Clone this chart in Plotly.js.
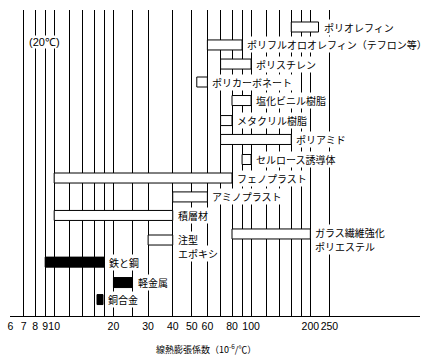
<!DOCTYPE html>
<html><head><meta charset="utf-8">
<script src="https://cdn.plot.ly/plotly-3.0.1.min.js"></script>
<style>html,body{margin:0;padding:0;background:#fff}</style>
</head><body>
<div id="chart" style="width:432px;height:363px"></div>
<script>
// Materials (top to bottom), linear thermal expansion range (10^-6 /°C)
const materials = [
  'ポリオレフィン',
  'ポリフルオロオレフィン（テフロン等）',
  'ポリスチレン',
  'ポリカーボネート',
  '塩化ビニル樹脂',
  'メタクリル樹脂',
  'ポリアミド',
  'セルロース誘導体',
  'フェノプラスト',
  'アミノプラスト',
  '積層材',
  '注型<br>エポキシ',
  'ガラス繊維強化<br>ポリエステル',
  '鉄と鋼',
  '軽金属',
  '銅合金'
];
const lowVals  = [160, 60, 70, 53, 80, 70, 70, 90, 10, 40, 10, 30, 80, 9, 20, 16.5];
const highVals = [220, 90, 100, 60, 100, 80, 160, 100, 80, 60, 40, 40, 200, 18, 25, 17.7];
const rows     = [1, 1.95, 2.96, 3.91, 4.89, 5.95, 6.95, 8.01, 8.99, 9.99, 10.97, 12.27, 11.95, 13.44, 14.52, 15.42];
const isMetal  = [false,false,false,false,false,false,false,false,false,false,false,false,false,true,true,true];

// labelled ticks and extra (unlabelled) grid lines
const tickVals   = [6, 7, 8, 9, 10, 20, 30, 40, 50, 60, 80, 100, 200, 250];
const tickLabels = ['6','7','8','9','10','20','30','40','50','60','80','100','200','250'];
const extraGrid  = [12, 14, 16, 18, 25, 70, 90, 120, 140, 160, 180];

const noteText  = '(20℃)';
const axisTitle = '線熱膨張係数（10<sup>-6</sup>/℃）';

function pick(flag) {
  const idx = materials.map((_, i) => i).filter(i => isMetal[i] === flag);
  return {
    y: idx.map(i => rows[i]),
    base: idx.map(i => lowVals[i]),
    x: idx.map(i => highVals[i] - lowVals[i])
  };
}
const plas = pick(false), met = pick(true);

const traces = [
  {type:'bar', orientation:'h', y:plas.y, x:plas.x, base:plas.base, width:0.53,
   marker:{color:'#fff', line:{color:'#000', width:1}}, hoverinfo:'skip'},
  {type:'bar', orientation:'h', y:met.y, x:met.x, base:met.base, width:0.53,
   marker:{color:'#000', line:{color:'#000', width:1}}, hoverinfo:'skip'}
];

const cjk = "'Noto Sans CJK JP', 'Noto Sans', sans-serif";
const annotations = [];
materials.forEach((m, i) => {
  const lines = m.split('<br>');
  lines.forEach((line, k) => {
    annotations.push({
      x: Math.log10(highVals[i]), y: rows[i], xref:'x', yref:'y',
      text: line, showarrow:false, xanchor:'left', yanchor:'middle', align:'left',
      xshift: 4, yshift: lines.length > 1 ? 1 - 14 * k : 0,
      bgcolor:'#fff', borderpad:0,
      font:{family:cjk, size:10, color:'#000'}
    });
  });
});
annotations.push({
  xref:'paper', yref:'paper', x:0.084, y:0.894, text:noteText, showarrow:false,
  xanchor:'center', yanchor:'middle', bgcolor:'#fff', borderpad:0,
  font:{family:"'Liberation Sans', Arial, sans-serif", size:11, color:'#000'}
});
annotations.push({
  xref:'paper', yref:'paper', x:0.478, y:-0.108, text:axisTitle, showarrow:false,
  xanchor:'center', yanchor:'middle',
  font:{family:cjk, size:9, color:'#000'}
});

const layout = {
  width:432, height:363,
  margin:{l:10, r:12, t:10, b:47},
  paper_bgcolor:'#fff', plot_bgcolor:'#fff',
  showlegend:false, barmode:'overlay',
  xaxis:{type:'log', range:[Math.log10(5.965), Math.log10(721)],
    tickmode:'array', tickvals:tickVals, ticktext:tickLabels,
    tickangle:0,
    showgrid:true, gridcolor:'#000', gridwidth:1,
    minor:{tickmode:'array', tickvals:extraGrid, showgrid:true, gridcolor:'#000', gridwidth:1, ticks:''},
    showline:true, linecolor:'#000', linewidth:1, ticks:'', zeroline:false,
    tickfont:{family:"'Liberation Sans', Arial, sans-serif", size:10.5, color:'#000'},
    fixedrange:true},
  yaxis:{range:[16.29, 0.1005], showgrid:false, showticklabels:false,
    zeroline:false, showline:false, fixedrange:true},
  annotations: annotations
};

Plotly.newPlot('chart', traces, layout, {staticPlot:true, displayModeBar:false});
</script>
</body></html>
